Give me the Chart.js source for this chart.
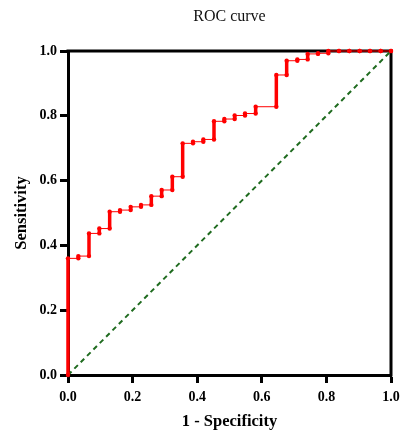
<!DOCTYPE html>
<html>
<head>
<meta charset="utf-8">
<script src="https://cdn.jsdelivr.net/npm/chart.js@4.4.1/dist/chart.umd.min.js"></script>
<style>
  html, body { margin: 0; padding: 0; background: #fff; }
  canvas { display: block; }
</style>
</head>
<body>
<canvas id="rocChart" width="402" height="432"></canvas>
<script>
// false positive rate at each cut-off step, and sensitivity reached there
const fpr = [0, 0.032, 0.065, 0.097, 0.129, 0.161, 0.194, 0.226, 0.258, 0.290, 0.323,
    0.355, 0.387, 0.419, 0.452, 0.484, 0.516, 0.548, 0.581, 0.645, 0.677, 0.710,
    0.742, 0.774, 0.806, 0.839, 0.871, 0.903, 0.935, 0.968, 1.0];
const sensitivity = [0.360, 0.367, 0.437, 0.452, 0.504, 0.509, 0.519, 0.525, 0.552, 0.571, 0.612,
    0.715, 0.720, 0.727, 0.783, 0.790, 0.801, 0.807, 0.828, 0.926, 0.970, 0.974,
    0.991, 0.993, 1.0, 1.0, 1.0, 1.0, 1.0, 1.0, 1.0];
const referenceLine = [{ x: 0, y: 0 }, { x: 1, y: 1 }];
const axisTicks = [0, 0.2, 0.4, 0.6, 0.8, 1.0];

// step curve: each column rises from the previous sensitivity to its own
const rocPoints = [{ x: 0, y: 0 }];
fpr.forEach((f, i) => {
    if (i > 0) rocPoints.push({ x: f, y: sensitivity[i - 1] });
    rocPoints.push({ x: f, y: sensitivity[i] });
});

const SERIF = '"Liberation Serif", "Times New Roman", serif';

const frameAndTitle = {
    id: 'frameAndTitle',
    beforeDatasetsDraw(chart) {
        const { ctx, chartArea: a } = chart;
        ctx.save();
        ctx.strokeStyle = '#000';
        ctx.lineWidth = 3;
        ctx.beginPath();
        ctx.moveTo(a.left - 1.5, a.top);
        ctx.lineTo(a.right, a.top);
        ctx.lineTo(a.right, a.bottom + 1.5);
        ctx.stroke();
        ctx.restore();
    },
    afterDraw(chart) {
        const { ctx, chartArea: a } = chart;
        ctx.save();
        ctx.font = '16px ' + SERIF;
        ctx.fillStyle = '#111';
        ctx.textAlign = 'center';
        ctx.textBaseline = 'middle';
        ctx.fillText('ROC curve', (a.left + a.right) / 2, 17);
        ctx.restore();
    }
};

function axisOptions(title, size, titlePadding, tickPadding) {
    return {
        type: 'linear',
        min: 0,
        max: 1,
        afterBuildTicks: scale => { scale.ticks = axisTicks.map(v => ({ value: v })); },
        afterFit: scale => {
            // fixed axis band; no extra room kept for the end labels
            if (scale.isHorizontal()) {
                scale.height = size;
                scale.paddingLeft = 0;
                scale.paddingRight = 0;
            } else {
                scale.width = size;
                scale.paddingTop = 0;
                scale.paddingBottom = 0;
            }
        },
        grid: {
            drawOnChartArea: false,
            drawTicks: true,
            tickLength: 8,
            tickWidth: 3,
            tickColor: '#000'
        },
        border: { display: true, color: '#000', width: 3 },
        ticks: {
            padding: tickPadding,
            color: '#000',
            font: { family: SERIF, size: 14, weight: 'bold' },
            callback: v => Number(v).toFixed(1)
        },
        title: {
            display: true,
            text: title,
            color: '#000',
            padding: titlePadding,
            font: { family: SERIF, size: 16.5, weight: 'bold' }
        }
    };
}

new Chart(document.getElementById('rocChart').getContext('2d'), {
    type: 'scatter',
    data: {
        datasets: [{
            label: 'ROC',
            data: rocPoints,
            showLine: true,
            borderColor: '#ff0000',
            backgroundColor: '#ff0000',
            borderWidth: 1,
            segment: {
                // vertical runs are packed with points, so they read as a thick bar
                borderWidth: ctx => ctx.p0.parsed.x === ctx.p1.parsed.x ? 3.5 : 1
            },
            pointRadius: 2.2,
            pointBorderWidth: 0,
            clip: false
        }, {
            label: 'Reference',
            data: referenceLine,
            showLine: true,
            borderColor: '#1f6b1f',
            borderWidth: 2,
            borderDash: [5, 4],
            pointRadius: 0,
            clip: false
        }]
    },
    options: {
        responsive: false,
        animation: false,
        layout: { autoPadding: false, padding: { top: 51, right: 11, left: 0, bottom: 0 } },
        plugins: {
            legend: { display: false },
            tooltip: { enabled: false }
        },
        scales: {
            x: axisOptions('1 - Specificity', 57, { top: 0, bottom: 0 }, 6),
            y: axisOptions('Sensitivity', 68, { top: 12, bottom: 0 }, 3)
        }
    },
    plugins: [frameAndTitle]
});
</script>
</body>
</html>
